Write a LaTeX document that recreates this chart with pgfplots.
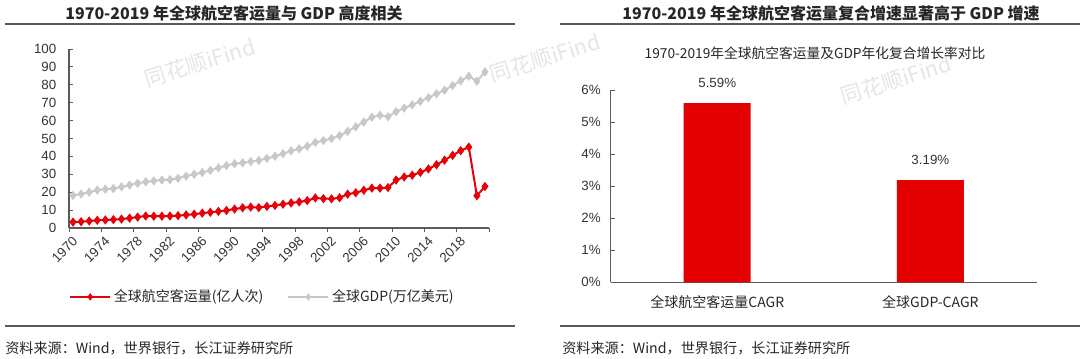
\documentclass[border=0pt]{standalone}
\usepackage{fontspec}
\setmainfont{Liberation Sans}
\newfontfamily\cjk{Noto Sans CJK SC}
\usepackage{pgfplots}
\usepackage{pgfplotstable}
\pgfplotsset{compat=1.18}
\definecolor{cred}{RGB}{228,0,0}
\definecolor{cline}{RGB}{232,0,8}
\definecolor{cgrey}{RGB}{200,200,200}
\definecolor{caxis}{RGB}{90,90,90}

\pgfplotstableread{
year pax gdp
1970 3.3 18.2
1971 3.5 19.0
1972 3.9 20.0
1973 4.3 21.2
1974 4.5 21.7
1975 4.7 22.0
1976 5.0 23.0
1977 5.5 24.0
1978 6.1 25.0
1979 6.7 25.8
1980 6.6 26.3
1981 6.6 26.8
1982 6.7 27.0
1983 6.9 27.8
1984 7.3 29.0
1985 7.7 30.0
1986 8.3 31.0
1987 8.8 32.2
1988 9.3 33.6
1989 9.8 34.9
1990 10.6 35.9
1991 11.3 36.4
1992 11.7 37.1
1993 11.4 37.7
1994 12.1 38.9
1995 12.6 40.1
1996 13.3 41.5
1997 14.0 43.1
1998 14.6 44.2
1999 15.3 45.7
2000 16.8 47.8
2001 16.4 48.8
2002 16.3 50.0
2003 16.9 51.6
2004 18.9 54.0
2005 19.7 56.5
2006 21.1 59.2
2007 22.3 61.9
2008 22.3 63.0
2009 22.6 62.2
2010 26.8 65.0
2011 28.5 67.0
2012 29.5 68.8
2013 31.1 70.8
2014 33.0 72.8
2015 35.3 75.0
2016 37.9 77.0
2017 40.6 79.6
2018 43.2 82.2
2019 45.2 84.8
2020 18.0 82.0
2021 23.2 87.2
}\datatable

\begin{document}
\begin{tikzpicture}
\path[use as bounding box] (0,0) rectangle (810pt,-269.25pt);

% watermarks
\node[rotate=17, text=black!10, font=\cjk\fontsize{16}{18}\selectfont] at (150pt,-47pt) {同花顺iFind};
\node[rotate=17, text=black!10, font=\cjk\fontsize{16}{18}\selectfont] at (408.75pt,-43.5pt) {同花顺iFind};
\node[rotate=17, text=black!10, font=\cjk\fontsize{16}{18}\selectfont] at (672pt,-60pt) {同花顺iFind};

% titles and rules
\node[font=\cjk\bfseries\fontsize{12}{14}\selectfont, text=black!85] at (175.5pt,-9.75pt) {1970-2019 年全球航空客运量与 GDP 高度相关};
\draw[black!65, line width=1.3pt] (3.75pt,-18pt) -- (386.25pt,-18pt);
\node[font=\cjk\bfseries\fontsize{12}{14}\selectfont, text=black!85] at (623.25pt,-9.75pt) {1970-2019 年全球航空客运量复合增速显著高于 GDP 增速};
\draw[black!65, line width=1.3pt] (420pt,-18pt) -- (810pt,-18pt);
\node[font=\cjk\fontsize{10.3}{12}\selectfont, text=black!85] at (611.25pt,-39.75pt) {1970-2019年全球航空客运量及GDP年化复合增长率对比};

\draw[black!65, line width=1pt] (3.75pt,-244.5pt) -- (386.25pt,-244.5pt);
\draw[black!65, line width=1pt] (420pt,-244.5pt) -- (810pt,-244.5pt);
\node[anchor=west, font=\cjk\fontsize{10.6}{13}\selectfont, text=black!85, inner sep=0pt] at (3.75pt,-261pt) {资料来源：Wind，世界银行，长江证券研究所};
\node[anchor=west, font=\cjk\fontsize{10.6}{13}\selectfont, text=black!85, inner sep=0pt] at (421.5pt,-261pt) {资料来源：Wind，世界银行，长江证券研究所};

% left chart
\begin{axis}[
  at={(51.75pt,-171pt)}, anchor=south west,
  scale only axis, width=315pt, height=134.25pt,
  xmin=1969.5, xmax=2021.5, ymin=0, ymax=100,
  axis x line*=bottom, axis y line*=left,
  axis line style={caxis, line width=0.8pt, -},
  xtick={1969.5,1973.5,1977.5,1981.5,1985.5,1989.5,1993.5,1997.5,2001.5,2005.5,2009.5,2013.5,2017.5,2021.5},
  xticklabels={1970,1974,1978,1982,1986,1990,1994,1998,2002,2006,2010,2014,2018,{}},
  xticklabel style={rotate=45, anchor=north east, xshift=3pt, font=\fontsize{10}{12}\selectfont, text=black!80},
  x tick style={caxis, line width=0.6pt},
  xtick align=outside,
  ytick={0,10,...,100},
  yticklabels={0,10,20,30,40,50,60,70,80,90,100},
  yticklabel style={font=\fontsize{10}{12}\selectfont, text=black!80, xshift=-6pt},
  y tick style={caxis, line width=0.6pt},
  ytick align=inside,
  major tick length=3pt,
  legend style={at={(0,-0.385)}, anchor=west, draw=none, fill=none, inner sep=0pt,
    font=\cjk\fontsize{10.5}{12}\selectfont, text=black!85,
    /tikz/every even column/.append style={column sep=16pt}},
  legend columns=2,
  legend image code/.code={\draw[mark repeat=2, mark phase=2, mark size=1.6pt, #1] plot coordinates {(0pt,0pt) (15pt,0pt) (30pt,0pt)};},
  clip=false,
]
\addplot[color=cline, line width=1.5pt, mark=diamond*, mark size=2.3pt, mark options={solid}] table[x=year,y=pax]{\datatable};
\addlegendentry{全球航空客运量(亿人次)}
\addplot[color=cgrey, line width=1.5pt, mark=diamond*, mark size=2.3pt, mark options={solid}] table[x=year,y=gdp]{\datatable};
\addlegendentry{全球GDP(万亿美元)}
\end{axis}

% right chart
\begin{axis}[
  at={(458pt,-211.7pt)}, anchor=south west,
  scale only axis, width=319.7pt, height=144.2pt,
  xmin=-0.5, xmax=1.5, ymin=0, ymax=6,
  axis x line*=bottom, axis y line*=left,
  axis line style={caxis, line width=0.8pt, -},
  ybar, bar width=50.25pt,
  xtick={0,1},
  xticklabels={全球航空客运量CAGR, 全球GDP-CAGR},
  xticklabel style={font=\cjk\fontsize{10.5}{12}\selectfont, text=black!85, yshift=-3pt},
  x tick style={draw=none},
  extra x ticks={0.5,1.5},
  extra x tick labels={},
  extra x tick style={x tick style={caxis, line width=0.6pt}, tick align=inside},
  ytick={0,1,...,6},
  yticklabels={0\%,1\%,2\%,3\%,4\%,5\%,6\%},
  yticklabel style={font=\fontsize{10}{12}\selectfont, text=black!80, xshift=-4pt},
  y tick style={caxis, line width=0.6pt},
  ytick align=inside,
  major tick length=3.5pt,
  /pgf/number format/assume math mode=true,
  nodes near coords={\pgfmathprintnumber[fixed,fixed zerofill,precision=2]{\pgfplotspointmeta}\%},
  every node near coord/.append style={font=\fontsize{10}{12}\selectfont, text=black!80, yshift=8pt},
  clip=false,
]
\addplot[fill=cred, draw=none] coordinates {(0,5.59) (1,3.19)};
\end{axis}
\end{tikzpicture}
\end{document}
